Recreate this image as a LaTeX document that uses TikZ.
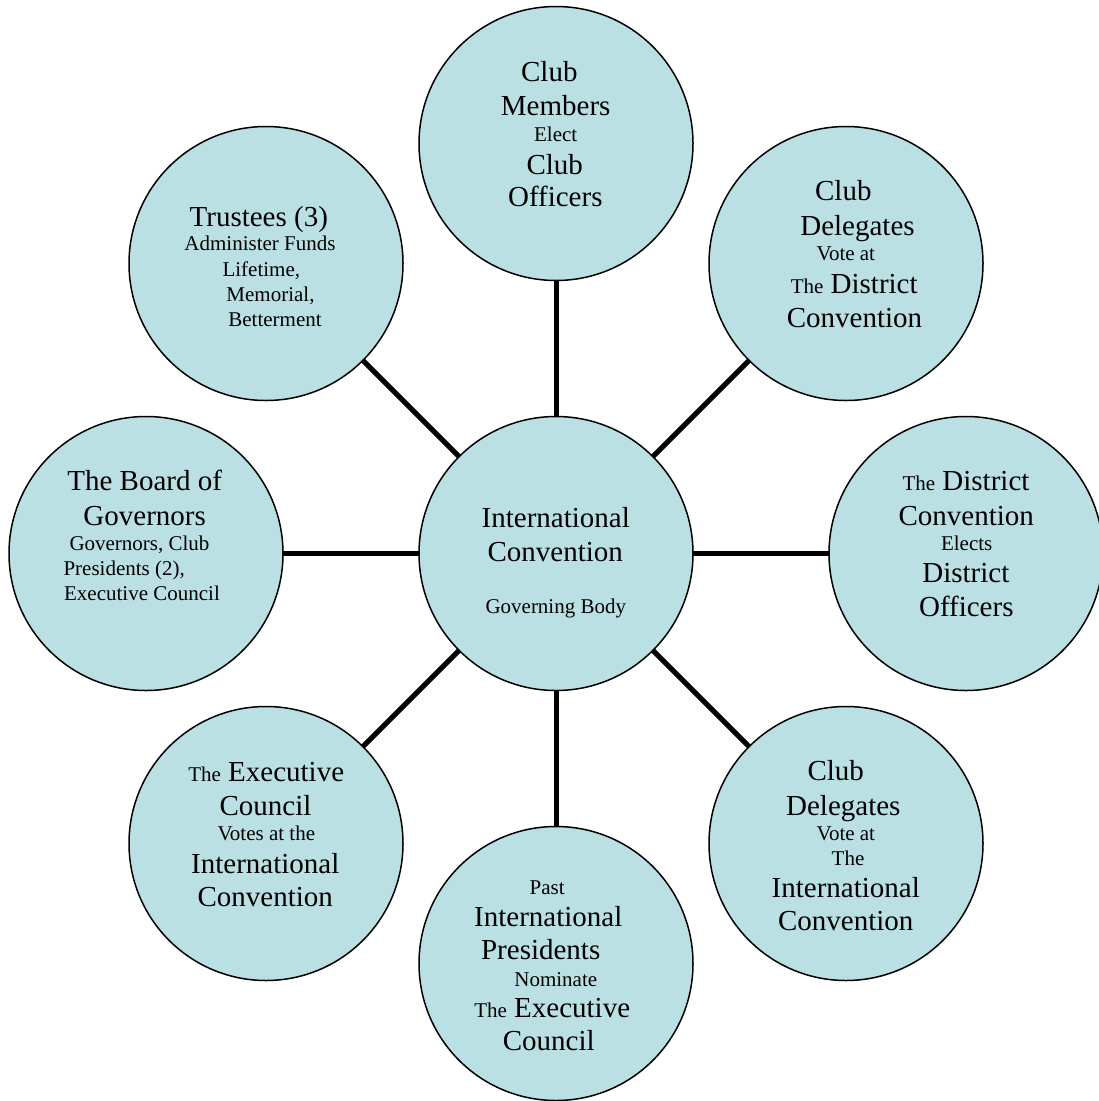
\documentclass[tikz,border=0pt]{standalone}
\usepackage{fontspec}
\setmainfont{Liberation Serif}
\usetikzlibrary{backgrounds}
\definecolor{bubblefill}{HTML}{BBE0E3}
\newcommand{\smtxt}{\fontsize{21}{25}\selectfont}
\begin{document}
\begin{tikzpicture}[x=1pt,y=-1pt,
  bubble/.style={circle,draw=black,line width=1.5pt,fill=bubblefill,minimum size=274pt,inner sep=0pt},
  link/.style={draw=black,line width=5pt},
  lg/.style={anchor=base,inner sep=0pt,font=\fontsize{29}{33}\selectfont},
  sm/.style={anchor=base,inner sep=0pt,font=\smtxt}]
\useasboundingbox (0,0) rectangle (1099,1101);

% circles
\node[bubble] (ic)  at (556,553.5) {};
\node[bubble] (top) at (556,143.5) {};
\node[bubble] (tr)  at (846,263.5) {};
\node[bubble] (rt)  at (966,553.5) {};
\node[bubble] (br)  at (846,843.5) {};
\node[bubble] (bot) at (556,963.5) {};
\node[bubble] (bl)  at (266,843.5) {};
\node[bubble] (lft) at (146,553.5) {};
\node[bubble] (tl)  at (266,263.5) {};

% connectors
\begin{scope}[on background layer]
\foreach \n in {top,tr,rt,br,bot,bl,lft,tl}
  \draw[link] (ic.center) -- (\n.center);
\end{scope}

% center
\node[lg] (ic1) at (555.8,527.3) {International};
\node[lg] (ic2) at (555.3,561.7) {Convention};
\node[sm] (ic3) at (555.8,613.3) {Governing Body};

% top
\node[lg] (top1) at (549.3,81.7) {Club};
\node[lg] (top2) at (555.7,115) {Members};
\node[sm] (top3) at (555.7,141) {Elect};
\node[lg] (top4) at (554.7,174) {Club};
\node[lg] (top5) at (555.3,206.7) {Officers};

% top right
\node[lg] (tr1) at (843.3,200) {Club};
\node[lg] (tr2) at (857.5,235) {Delegates};
\node[sm] (tr3) at (845.8,260.7) {Vote at};
\node[lg] (tr4) at (854.2,293.3) {{\smtxt The} District};
\node[lg] (tr5) at (854.5,327.3) {Convention};

% right
\node[lg] (rt1) at (966,490.7) {{\smtxt The} District};
\node[lg] (rt2) at (966.2,525) {Convention};
\node[sm] (rt3) at (966.7,550.7) {Elects};
\node[lg] (rt4) at (965.8,582.7) {District};
\node[lg] (rt5) at (966.3,616) {Officers};

% bottom right
\node[lg] (br1) at (835.7,780.7) {Club};
\node[lg] (br2) at (843.3,815) {Delegates};
\node[sm] (br3) at (845.8,840.7) {Vote at};
\node[sm] (br4) at (848,865.7) {The};
\node[lg] (br5) at (845.8,897.3) {International};
\node[lg] (br6) at (845.8,930.7) {Convention};

% bottom
\node[sm] (bot1) at (547.2,894) {Past};
\node[lg] (bot2) at (548.3,926) {International};
\node[lg] (bot3) at (540.7,959.3) {Presidents};
\node[sm] (bot4) at (555.8,986) {Nominate};
\node[lg] (bot5) at (552.2,1017.3) {{\smtxt The} Executive};
\node[lg] (bot6) at (548.8,1050.7) {Council};

% bottom left
\node[lg] (bl1) at (266.2,781.7) {{\smtxt The} Executive};
\node[lg] (bl2) at (265.5,815) {Council};
\node[sm] (bl3) at (266.3,840.7) {Votes at the};
\node[lg] (bl4) at (265.3,873.3) {International};
\node[lg] (bl5) at (265.3,906.7) {Convention};

% left
\node[lg] (lft1) at (144.7,490.7) {The Board of};
\node[lg] (lft2) at (144.7,525) {Governors};
\node[sm] (lft3) at (139.5,550) {Governors, Club};
\node[sm] (lft4) at (124.2,575.7) {Presidents (2),};
\node[sm] (lft5) at (142,600.7) {Executive Council};

% top left
\node[lg] (tl1) at (258.8,226) {Trustees (3)};
\node[sm] (tl2) at (260,250.7) {Administer Funds};
\node[sm] (tl3) at (261.3,276.7) {Lifetime,};
\node[sm] (tl4) at (270.5,301.7) {Memorial,};
\node[sm] (tl5) at (275,326.7) {Betterment};
\end{tikzpicture}
\end{document}
